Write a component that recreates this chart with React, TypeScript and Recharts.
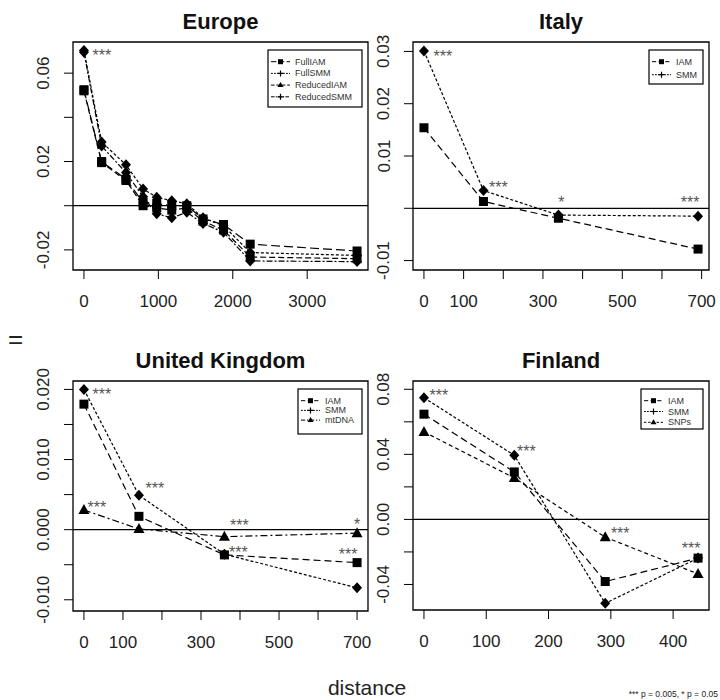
import React from "react";
import {
  LineChart,
  Line,
  XAxis,
  YAxis,
  ReferenceLine,
  ReferenceArea,
  ReferenceDot,
} from "recharts";

const FONT = "'Liberation Sans', Arial, Helvetica, sans-serif";

// ---- Europe ----
const EU_DIST = [0, 238, 565, 795, 978, 1180, 1382, 1600, 1875, 2234, 3670];
const EU_FULL_IAM = [0.0525, 0.02, 0.012, 0.0015, 0.001, 0.0, 0.0, -0.006, -0.0085, -0.0174, -0.0205];
const EU_FULL_SMM = [0.0703, 0.0288, 0.0185, 0.0076, 0.0038, 0.0023, 0.0009, -0.0055, -0.009, -0.0212, -0.0225];
const EU_RED_IAM = [0.052, 0.0195, 0.0114, 0.0, -0.001, -0.002, -0.001, -0.007, -0.011, -0.0232, -0.024];
const EU_RED_SMM = [0.0695, 0.027, 0.015, 0.004, -0.0036, -0.0055, -0.003, -0.008, -0.012, -0.025, -0.0253];
const EU_X_TICKS = [0, 1000, 2000, 3000];
const EU_X_LABELS = ["0", "1000", "2000", "3000"];
const EU_Y_TICKS = [-0.02, 0, 0.02, 0.04, 0.06];
const EU_Y_LABELS = ["-0.02", "", "0.02", "", "0.06"];

// ---- Italy ----
const IT_DIST = [0, 150, 339, 691];
const IT_IAM = [0.0154, 0.0013, -0.0019, -0.0078];
const IT_SMM = [0.0301, 0.0034, -0.0013, -0.0015];
const IT_X_TICKS = [0, 100, 200, 300, 400, 500, 600, 700];
const IT_X_LABELS = ["0", "100", "", "300", "", "500", "", "700"];
const IT_Y_TICKS = [-0.01, 0, 0.01, 0.02, 0.03];
const IT_Y_LABELS = ["-0.01", "", "0.01", "0.02", "0.03"];

// ---- United Kingdom ----
const UK_DIST = [0, 141, 360, 700];
const UK_IAM = [0.0179, 0.0019, -0.0036, -0.0047];
const UK_SMM = [0.02, 0.0049, -0.0035, -0.0083];
const UK_MTDNA = [0.0028, 0.0001, -0.001, -0.0005];
const UK_X_TICKS = [0, 100, 200, 300, 400, 500, 600, 700];
const UK_X_LABELS = ["0", "100", "", "300", "", "500", "", "700"];
const UK_Y_TICKS = [-0.01, -0.005, 0, 0.005, 0.01, 0.015, 0.02];
const UK_Y_LABELS = ["-0.010", "", "0.000", "", "0.010", "", "0.020"];

// ---- Finland ----
const FI_DIST = [0, 145, 291, 440];
const FI_IAM = [0.0647, 0.0292, -0.0382, -0.0238];
const FI_SMM = [0.0748, 0.0394, -0.0516, -0.0238];
const FI_SNPS = [0.0538, 0.0255, -0.0109, -0.0335];
const FI_X_TICKS = [0, 100, 200, 300, 400];
const FI_X_LABELS = ["0", "100", "200", "300", "400"];
const FI_Y_TICKS = [-0.04, -0.02, 0, 0.02, 0.04, 0.06, 0.08];
const FI_Y_LABELS = ["-0.04", "", "0.00", "", "0.04", "", "0.08"];

type Shape = "square" | "diamond" | "triangle";
type Series = { key: string; name: string; values: number[]; dash: string; marker: Shape; legendMarker: Shape | "plus" };
type Star = { key: string; index: number; text: string; dx: number; dy: number };

const LONG = "7 4";
const DOT = "3 2";

const EU_SERIES: Series[] = [
  { key: "fullIam", name: "FullIAM", values: EU_FULL_IAM, dash: "9 4", marker: "square", legendMarker: "square" },
  { key: "fullSmm", name: "FullSMM", values: EU_FULL_SMM, dash: DOT, marker: "diamond", legendMarker: "plus" },
  { key: "redIam", name: "ReducedIAM", values: EU_RED_IAM, dash: "6 3", marker: "square", legendMarker: "triangle" },
  { key: "redSmm", name: "ReducedSMM", values: EU_RED_SMM, dash: "6 2 2 2", marker: "diamond", legendMarker: "plus" },
];
const IT_SERIES: Series[] = [
  { key: "iam", name: "IAM", values: IT_IAM, dash: LONG, marker: "square", legendMarker: "square" },
  { key: "smm", name: "SMM", values: IT_SMM, dash: DOT, marker: "diamond", legendMarker: "plus" },
];
const UK_SERIES: Series[] = [
  { key: "iam", name: "IAM", values: UK_IAM, dash: LONG, marker: "square", legendMarker: "square" },
  { key: "smm", name: "SMM", values: UK_SMM, dash: DOT, marker: "diamond", legendMarker: "plus" },
  { key: "mtdna", name: "mtDNA", values: UK_MTDNA, dash: "7 3 2 3", marker: "triangle", legendMarker: "triangle" },
];
const FI_SERIES: Series[] = [
  { key: "iam", name: "IAM", values: FI_IAM, dash: LONG, marker: "square", legendMarker: "square" },
  { key: "smm", name: "SMM", values: FI_SMM, dash: DOT, marker: "diamond", legendMarker: "plus" },
  { key: "snps", name: "SNPs", values: FI_SNPS, dash: "4 3", marker: "triangle", legendMarker: "triangle" },
];

// significance marks, attached to a series point
const EU_STARS: Star[] = [{ key: "fullSmm", index: 0, text: "***", dx: 18, dy: 2 }];
const IT_STARS: Star[] = [
  { key: "smm", index: 0, text: "***", dx: 19, dy: 2 },
  { key: "smm", index: 1, text: "***", dx: 15, dy: -7 },
  { key: "smm", index: 2, text: "*", dx: 3, dy: -16 },
  { key: "smm", index: 3, text: "***", dx: -8, dy: -17 },
];
const UK_STARS: Star[] = [
  { key: "smm", index: 0, text: "***", dx: 18, dy: 2 },
  { key: "smm", index: 1, text: "***", dx: 16, dy: -10 },
  { key: "mtdna", index: 0, text: "***", dx: 13, dy: -6 },
  { key: "mtdna", index: 2, text: "***", dx: 15, dy: -15 },
  { key: "iam", index: 2, text: "***", dx: 14, dy: -6 },
  { key: "mtdna", index: 3, text: "*", dx: 0, dy: -12 },
  { key: "iam", index: 3, text: "***", dx: -9, dy: -12 },
];
const FI_STARS: Star[] = [
  { key: "smm", index: 0, text: "***", dx: 15, dy: -6 },
  { key: "smm", index: 1, text: "***", dx: 12, dy: -7 },
  { key: "snps", index: 2, text: "***", dx: 15, dy: -7 },
  { key: "iam", index: 3, text: "***", dx: -7, dy: -13 },
];

function MarkerShape({ shape, cx, cy }: { shape: Shape; cx: number; cy: number }) {
  if (shape === "square") {
    return <rect x={cx - 4.5} y={cy - 4.5} width={9} height={9} fill="#000" />;
  }
  if (shape === "diamond") {
    return <path d={`M${cx},${cy - 5.5}L${cx + 5},${cy}L${cx},${cy + 5.5}L${cx - 5},${cy}Z`} fill="#000" />;
  }
  return <path d={`M${cx},${cy - 6}L${cx + 5.5},${cy + 4}L${cx - 5.5},${cy + 4}Z`} fill="#000" />;
}

function LegendBox({ series, width, height, gap }: { series: Series[]; width: number; height: number; gap: number }) {
  return (
    <svg width={width + 2} height={height + 2} style={{ display: "block" }}>
      <rect x={1} y={1} width={width} height={height} fill="#fff" stroke="#000" strokeWidth={1.2} />
      {series.map((s, i) => {
        const y = 1 + 11.7 + i * gap;
        const mx = 13.5;
        return (
          <g key={s.key}>
            <line x1={4} x2={23} y1={y} y2={y} stroke="#000" strokeWidth={1} strokeDasharray={s.dash.split(" ").map((v) => Number(v) * 0.6).join(" ")} />
            {s.legendMarker === "square" && <rect x={mx - 2.5} y={y - 2.5} width={5} height={5} fill="#000" />}
            {s.legendMarker === "plus" && (
              <path d={`M${mx - 3},${y}H${mx + 3}M${mx},${y - 3}V${y + 3}`} stroke="#000" strokeWidth={1.2} />
            )}
            {s.legendMarker === "triangle" && (
              <path d={`M${mx},${y - 3}L${mx + 3},${y + 2}L${mx - 3},${y + 2}Z`} fill="#000" />
            )}
            <text x={28} y={y} dominantBaseline="central" fontFamily={FONT} fontSize={9} fill="#333">
              {s.name}
            </text>
          </g>
        );
      })}
    </svg>
  );
}

type PanelProps = {
  title: string;
  left: number;
  top: number;
  width: number;
  height: number;
  dist: number[];
  series: Series[];
  xDomain: [number, number];
  xTicks: number[];
  xLabels: string[];
  yDomain: [number, number];
  yTicks: number[];
  yLabels: string[];
  stars: Star[];
  legend: { width: number; height: number; gap: number };
};

// room around each plot box for the axes and overhanging tick labels
const ML = 50;
const MB = 50;
const MT = 30;
const MR = 24;

function Panel(p: PanelProps) {
  const rows = p.dist.map((d, i) => {
    const r: Record<string, number> = { d };
    p.series.forEach((s) => {
      r[s.key] = s.values[i];
    });
    return r;
  });
  const bottom = MT + p.height;

  return (
    <div style={{ position: "absolute", left: p.left - ML, top: p.top - MT }}>
      <LineChart
        width={ML + p.width + MR}
        height={MT + p.height + MB}
        data={rows}
        margin={{ top: MT, right: MR, bottom: 0, left: 0 }}
      >
        <XAxis
          dataKey="d"
          type="number"
          domain={p.xDomain}
          ticks={p.xTicks}
          interval={0}
          allowDataOverflow
          axisLine={false}
          tickSize={9}
          tickLine={{ stroke: "#000", strokeWidth: 1 }}
          height={MB}
          tick={(t: any) => {
            const label = p.xLabels[p.xTicks.indexOf(t.payload.value)];
            return (
              <text x={t.x} y={bottom + 37} textAnchor="middle" fontFamily={FONT} fontSize={17} fill="#222">
                {label}
              </text>
            );
          }}
        />
        <YAxis
          type="number"
          domain={p.yDomain}
          ticks={p.yTicks}
          interval={0}
          allowDataOverflow
          axisLine={false}
          tickSize={9}
          tickLine={{ stroke: "#000", strokeWidth: 1 }}
          width={ML}
          tick={(t: any) => {
            const label = p.yLabels[p.yTicks.indexOf(t.payload.value)];
            const cx = ML - 29;
            return (
              <text
                x={cx}
                y={t.y}
                transform={`rotate(-90 ${cx} ${t.y})`}
                textAnchor="middle"
                dominantBaseline="central"
                fontFamily={FONT}
                fontSize={17}
                fill="#222"
              >
                {label}
              </text>
            );
          }}
        />
        <ReferenceArea
          x1={p.xDomain[0]}
          x2={p.xDomain[1]}
          y1={p.yDomain[0]}
          y2={p.yDomain[1]}
          fill="none"
          stroke="#000"
          strokeWidth={1.3}
        />
        <ReferenceLine y={0} stroke="#000" strokeWidth={1.2} />
        {p.series.map((s) => (
          <Line
            key={s.key}
            dataKey={s.key}
            type="linear"
            stroke="#000"
            strokeWidth={1.2}
            strokeDasharray={s.dash}
            activeDot={false}
            isAnimationActive={false}
            dot={(d: any) => <MarkerShape key={`${s.key}-${d.index}`} shape={s.marker} cx={d.cx} cy={d.cy} />}
          />
        ))}
        {p.stars.map((st, i) => {
          const s = p.series.find((x) => x.key === st.key)!;
          return (
            <ReferenceDot
              key={`star-${i}`}
              x={p.dist[st.index]}
              y={s.values[st.index]}
              r={0}
              shape={(d: any) => (
                <text
                  x={d.cx + st.dx}
                  y={d.cy + st.dy + 9}
                  textAnchor="middle"
                  fontFamily={FONT}
                  fontSize={16}
                  fill="#555"
                >
                  {st.text}
                </text>
              )}
            />
          );
        })}
      </LineChart>
      <div
        style={{
          position: "absolute",
          left: ML + p.width - 6 - p.legend.width - 1,
          top: MT + 8 - 1,
        }}
      >
        <LegendBox series={p.series} width={p.legend.width} height={p.legend.height} gap={p.legend.gap} />
      </div>
    </div>
  );
}

export default function App() {
  const titleStyle = { fontFamily: FONT, fontSize: 22, fontWeight: 700 as const, fill: "#111" };
  return (
    <div style={{ position: "absolute", left: 0, top: 0, width: 720, height: 700, background: "#fff", overflow: "hidden" }}>
      <Panel
        title="Europe"
        left={73}
        top={42}
        width={295}
        height={228}
        dist={EU_DIST}
        series={EU_SERIES}
        xDomain={[-147, 3817]}
        xTicks={EU_X_TICKS}
        xLabels={EU_X_LABELS}
        yDomain={[-0.0291, 0.0741]}
        yTicks={EU_Y_TICKS}
        yLabels={EU_Y_LABELS}
        stars={EU_STARS}
        legend={{ width: 94, height: 57, gap: 11.7 }}
      />
      <Panel
        title="Italy"
        left={413}
        top={42}
        width={296}
        height={228}
        dist={IT_DIST}
        series={IT_SERIES}
        xDomain={[-27.6, 718.6]}
        xTicks={IT_X_TICKS}
        xLabels={IT_X_LABELS}
        yDomain={[-0.0118, 0.0318]}
        yTicks={IT_Y_TICKS}
        yLabels={IT_Y_LABELS}
        stars={IT_STARS}
        legend={{ width: 54, height: 34, gap: 13 }}
      />
      <Panel
        title="United Kingdom"
        left={73}
        top={381}
        width={295}
        height={230}
        dist={UK_DIST}
        series={UK_SERIES}
        xDomain={[-28, 728]}
        xTicks={UK_X_TICKS}
        xLabels={UK_X_LABELS}
        yDomain={[-0.0116, 0.0212]}
        yTicks={UK_Y_TICKS}
        yLabels={UK_Y_LABELS}
        stars={UK_STARS}
        legend={{ width: 64, height: 45, gap: 9.7 }}
      />
      <Panel
        title="Finland"
        left={413}
        top={381}
        width={296}
        height={229}
        dist={FI_DIST}
        series={FI_SERIES}
        xDomain={[-17.6, 457.6]}
        xTicks={FI_X_TICKS}
        xLabels={FI_X_LABELS}
        yDomain={[-0.0557, 0.0851]}
        yTicks={FI_Y_TICKS}
        yLabels={FI_Y_LABELS}
        stars={FI_STARS}
        legend={{ width: 62, height: 40, gap: 10.8 }}
      />
      <svg width={720} height={700} style={{ position: "absolute", left: 0, top: 0, pointerEvents: "none" }}>
        <text x={220.5} y={29} textAnchor="middle" {...titleStyle}>Europe</text>
        <text x={561} y={29} textAnchor="middle" {...titleStyle}>Italy</text>
        <text x={220.5} y={368} textAnchor="middle" {...titleStyle}>United Kingdom</text>
        <text x={561} y={368} textAnchor="middle" {...titleStyle}>Finland</text>
        <text x={8} y={348} fontFamily={FONT} fontSize={26} fill="#222">=</text>
        <text x={367} y={695} textAnchor="middle" fontFamily={FONT} fontSize={21} fill="#222">distance</text>
        <text x={718} y={697} textAnchor="end" fontFamily={FONT} fontSize={8.5} fill="#222">*** p = 0.005, * p = 0.05</text>
      </svg>
    </div>
  );
}
